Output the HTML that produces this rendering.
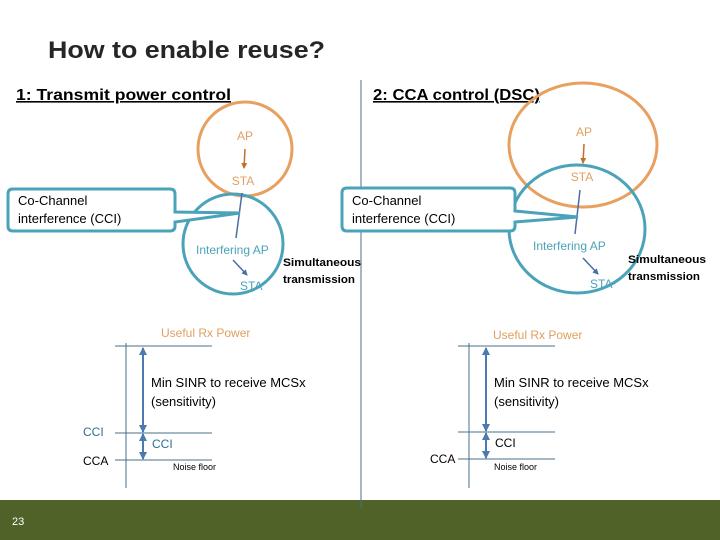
<!DOCTYPE html>
<html><head><meta charset="utf-8"><style>
html,body{margin:0;padding:0;background:#fff}
svg{display:block}
text{font-family:"Liberation Sans",sans-serif}
</style></head><body>
<svg width="720" height="540" viewBox="0 0 720 540" xmlns="http://www.w3.org/2000/svg">
<defs>
<marker id="ab" markerWidth="6" markerHeight="6" refX="5" refY="3" orient="auto" markerUnits="userSpaceOnUse"><path d="M0,0 L6,3 L0,6 z" fill="#4a6fa5"/></marker>
<marker id="ao" markerWidth="6" markerHeight="6" refX="5" refY="3" orient="auto" markerUnits="userSpaceOnUse"><path d="M0,0 L6,3 L0,6 z" fill="#c0702a"/></marker>
<marker id="ar" markerWidth="8" markerHeight="8" refX="7" refY="4" orient="auto" markerUnits="userSpaceOnUse"><path d="M0,0 L8,4 L0,8 z" fill="#4a7ab0"/></marker>
</defs>
<text x="48" y="58" font-size="24" font-weight="bold" fill="#262626" textLength="277" lengthAdjust="spacingAndGlyphs">How to enable reuse?</text>
<text x="16" y="100" font-size="16" font-weight="bold" fill="#000" text-decoration="underline" textLength="215" lengthAdjust="spacingAndGlyphs">1: Transmit power control</text>
<text x="373" y="100" font-size="16" font-weight="bold" fill="#000" text-decoration="underline" textLength="167" lengthAdjust="spacingAndGlyphs">2: CCA control (DSC)</text>
<line x1="361" y1="80" x2="361" y2="508" stroke="#4a6f8a" stroke-width="1"/>

<!-- left -->
<circle cx="245" cy="149" r="47" fill="none" stroke="#e8a060" stroke-width="3"/>
<circle cx="233" cy="244" r="50" fill="none" stroke="#4aa3b8" stroke-width="3"/>
<text x="245" y="140" font-size="12" fill="#e0a060" text-anchor="middle">AP</text>
<line x1="245" y1="149" x2="244" y2="168" stroke="#c0702a" stroke-width="1.5" marker-end="url(#ao)"/>
<text x="243" y="185" font-size="12" fill="#e0a060" text-anchor="middle">STA</text>
<line x1="242" y1="193" x2="236" y2="238" stroke="#4a6fa5" stroke-width="1.5"/>
<path d="M13,189 H170 Q175,189 175,194 V212 L240,213 L175,222 V226 Q175,231 170,231 H13 Q8,231 8,226 V194 Q8,189 13,189 Z" fill="#fff" stroke="#4aa3b8" stroke-width="3"/>
<text x="18" y="205" font-size="13" fill="#000">Co-Channel</text>
<text x="18" y="223" font-size="13" fill="#000">interference (CCI)</text>
<text x="196" y="254" font-size="12" fill="#4aa3b8">Interfering AP</text>
<line x1="233" y1="260" x2="247" y2="275" stroke="#4a6fa5" stroke-width="1.5" marker-end="url(#ab)"/>
<text x="240" y="290" font-size="12" fill="#4aa3b8">STA</text>
<text x="283" y="266" font-size="11" font-weight="bold" fill="#000" textLength="78" lengthAdjust="spacingAndGlyphs">Simultaneous</text>
<text x="283" y="283" font-size="11" font-weight="bold" fill="#000" textLength="72" lengthAdjust="spacingAndGlyphs">transmission</text>

<!-- right -->
<ellipse cx="583" cy="145" rx="74" ry="62" fill="none" stroke="#e8a060" stroke-width="3"/>
<ellipse cx="577" cy="229" rx="68" ry="64" fill="none" stroke="#4aa3b8" stroke-width="3"/>
<text x="584" y="136" font-size="12" fill="#e0a060" text-anchor="middle">AP</text>
<line x1="584" y1="144" x2="583" y2="163" stroke="#c0702a" stroke-width="1.5" marker-end="url(#ao)"/>
<text x="582" y="181" font-size="12" fill="#e0a060" text-anchor="middle">STA</text>
<line x1="580" y1="190" x2="575" y2="234" stroke="#4a6fa5" stroke-width="1.5"/>
<path d="M347,188 H510 Q515,188 515,193 V211 L578,217 L515,222 V226 Q515,231 510,231 H347 Q342,231 342,226 V193 Q342,188 347,188 Z" fill="#fff" stroke="#4aa3b8" stroke-width="3"/>
<text x="352" y="205" font-size="13" fill="#000">Co-Channel</text>
<text x="352" y="223" font-size="13" fill="#000">interference (CCI)</text>
<text x="533" y="250" font-size="12" fill="#4aa3b8">Interfering AP</text>
<line x1="583" y1="258" x2="598" y2="274" stroke="#4a6fa5" stroke-width="1.5" marker-end="url(#ab)"/>
<text x="590" y="288" font-size="12" fill="#4aa3b8">STA</text>
<text x="628" y="263" font-size="11" font-weight="bold" fill="#000" textLength="78" lengthAdjust="spacingAndGlyphs">Simultaneous</text>
<text x="628" y="280" font-size="11" font-weight="bold" fill="#000" textLength="72" lengthAdjust="spacingAndGlyphs">transmission</text>

<!-- bottom left -->
<text x="161" y="337" font-size="12" fill="#e0a060">Useful Rx Power</text>
<line x1="126" y1="343" x2="126" y2="488" stroke="#4a6f8a" stroke-width="1"/>
<g stroke="#4a6f8a" stroke-width="1"><line x1="115" y1="346" x2="212" y2="346"/><line x1="115" y1="433" x2="212" y2="433"/><line x1="115" y1="460" x2="212" y2="460"/></g>
<line x1="143" y1="432" x2="143" y2="348" stroke="#4a7ab0" stroke-width="2" marker-end="url(#ar)"/>
<line x1="143" y1="348" x2="143" y2="432" stroke="#4a7ab0" stroke-width="2" marker-end="url(#ar)"/>
<line x1="143" y1="459" x2="143" y2="434" stroke="#4a7ab0" stroke-width="2" marker-end="url(#ar)"/>
<line x1="143" y1="434" x2="143" y2="459" stroke="#4a7ab0" stroke-width="2" marker-end="url(#ar)"/>
<text x="151" y="387" font-size="13" fill="#000">Min SINR to receive MCSx</text>
<text x="151" y="406" font-size="13" fill="#000">(sensitivity)</text>
<text x="83" y="436" font-size="12" fill="#2e6f8a">CCI</text>
<text x="152" y="448" font-size="12" fill="#2e6f8a">CCI</text>
<text x="83" y="465" font-size="12" fill="#000">CCA</text>
<text x="173" y="470" font-size="9" fill="#000">Noise floor</text>

<!-- bottom right -->
<text x="493" y="339" font-size="12" fill="#e0a060">Useful Rx Power</text>
<line x1="469" y1="343" x2="469" y2="488" stroke="#4a6f8a" stroke-width="1"/>
<g stroke="#4a6f8a" stroke-width="1"><line x1="458" y1="346" x2="555" y2="346"/><line x1="458" y1="432" x2="555" y2="432"/><line x1="458" y1="459" x2="555" y2="459"/></g>
<line x1="486" y1="431" x2="486" y2="348" stroke="#4a7ab0" stroke-width="2" marker-end="url(#ar)"/>
<line x1="486" y1="348" x2="486" y2="431" stroke="#4a7ab0" stroke-width="2" marker-end="url(#ar)"/>
<line x1="486" y1="458" x2="486" y2="433" stroke="#4a7ab0" stroke-width="2" marker-end="url(#ar)"/>
<line x1="486" y1="433" x2="486" y2="458" stroke="#4a7ab0" stroke-width="2" marker-end="url(#ar)"/>
<text x="494" y="387" font-size="13" fill="#000">Min SINR to receive MCSx</text>
<text x="494" y="406" font-size="13" fill="#000">(sensitivity)</text>
<text x="495" y="447" font-size="12" fill="#000">CCI</text>
<text x="430" y="463" font-size="12" fill="#000">CCA</text>
<text x="494" y="470" font-size="9" fill="#000">Noise floor</text>

<rect x="0" y="500" width="720" height="40" fill="#4f6228"/>
<line x1="361" y1="500" x2="361" y2="508" stroke="#4a6f8a" stroke-width="1"/>
<text x="12" y="495" font-size="11" fill="#fff" dy="30">23</text>
</svg>
</body></html>
